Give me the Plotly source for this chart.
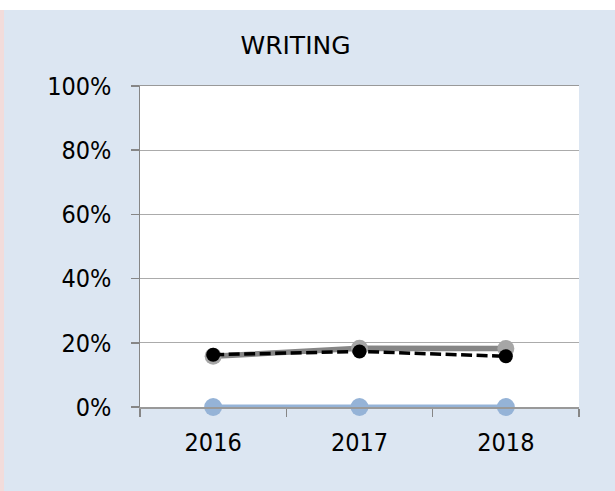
import plotly.graph_objects as go

years = ["2016", "2017", "2018"]
series_blue = [0.0, 0.0, 0.0]
series_gray = [0.158, 0.183, 0.182]
series_black = [0.163, 0.173, 0.158]
y_ticks = [0, 0.2, 0.4, 0.6, 0.8, 1.0]
y_tick_labels = ["0%", "20%", "40%", "60%", "80%", "100%"]

W, H = 615, 491
L, R, T, B = 140, 36, 86, 84
PW, PH = W - L - R, H - T - B

def px_x(px):
    return (px - L) / PW

def px_y(py):
    return (H - B - py) / PH

tick_font = dict(family="DejaVu Sans Condensed, Liberation Sans, Arial, sans-serif", size=25, color="#000000")

fig = go.Figure()
fig.add_trace(go.Scatter(
    x=years, y=series_blue, mode="lines+markers",
    line=dict(color="#95B3D7", width=5),
    marker=dict(color="#95B3D7", size=18),
    cliponaxis=False, showlegend=False, hoverinfo="skip"))
fig.add_trace(go.Scatter(
    x=years, y=series_gray, mode="lines+markers",
    line=dict(color="#868686", width=5.5),
    marker=dict(color="#A6A6A6", size=17),
    cliponaxis=False, showlegend=False, hoverinfo="skip"))
fig.add_trace(go.Scatter(
    x=years, y=series_black, mode="lines+markers",
    line=dict(color="#000000", width=3.5, dash="11px,4.5px"),
    marker=dict(color="#000000", size=14),
    cliponaxis=False, showlegend=False, hoverinfo="skip"))

shapes = [
    dict(type="rect", xref="paper", yref="paper", layer="below",
         x0=px_x(4), x1=px_x(W + 2), y0=px_y(H + 2), y1=px_y(10),
         fillcolor="#DCE6F2", line=dict(width=0)),
    dict(type="rect", xref="paper", yref="paper", layer="below",
         x0=px_x(-2), x1=px_x(4), y0=px_y(H + 2), y1=px_y(10),
         fillcolor="#F2DCDB", line=dict(width=0)),
    dict(type="rect", xref="paper", yref="paper", layer="below",
         x0=0, x1=1, y0=0, y1=1,
         fillcolor="#FFFFFF", line=dict(width=0)),
]

fig.update_layout(
    width=W, height=H,
    margin=dict(l=L, r=R, t=T, b=B),
    paper_bgcolor="#FFFFFF",
    plot_bgcolor="#FFFFFF",
    shapes=shapes,
    hovermode=False,
    title=dict(text="WRITING", xref="container", yref="container",
               x=295.5 / W, y=1 - 45 / H, xanchor="center", yanchor="middle",
               font=dict(family="DejaVu Sans, Verdana, sans-serif", size=25, color="#000000")),
    xaxis=dict(
        type="category", range=[-0.5, 2.5],
        showgrid=False, zeroline=False,
        showline=True, mirror=True, linecolor="#999999", linewidth=1.5,
        ticks="outside", tickson="boundaries", ticklen=8, tickcolor="#868686", tickwidth=1.5,
        tickfont=tick_font, ticklabelstandoff=12,
    ),
    yaxis=dict(
        range=[0, 1], tickvals=y_ticks, ticktext=y_tick_labels,
        showgrid=True, gridcolor="#ABABAB", gridwidth=1,
        zeroline=False,
        showline=True, linecolor="#868686", linewidth=1.5,
        ticks="outside", ticklen=8, tickcolor="#868686", tickwidth=1.5,
        tickfont=tick_font, ticklabelstandoff=14,
    ),
)

fig.write_html("out.html", config={"displayModeBar": False, "staticPlot": True},
               post_script="document.body.style.margin='0';document.body.style.padding='0';")
